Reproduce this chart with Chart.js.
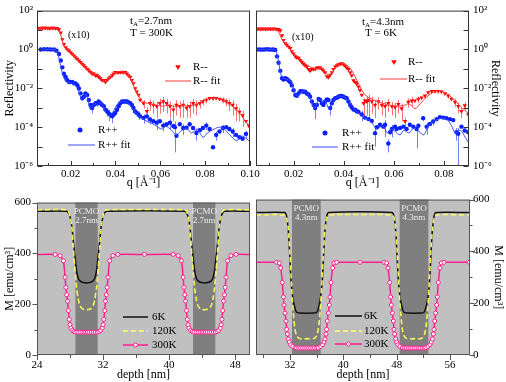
<!DOCTYPE html>
<html>
<head>
<meta charset="utf-8">
<script src="https://cdn.jsdelivr.net/npm/chart.js@4.4.1/dist/chart.umd.min.js"></script>
<style>
  body { margin: 0; background: #fff; }
  #wrap { position: relative; width: 506px; height: 382px; overflow: hidden; }
  canvas { position: absolute; }
</style>
</head>
<body>
<div id="wrap">
  <canvas id="topLeft" width="262" height="190" style="left:0px;top:0px"></canvas>
  <canvas id="topRight" width="253" height="190" style="left:253px;top:0px"></canvas>
  <canvas id="botLeft" width="253" height="192" style="left:0px;top:190px"></canvas>
  <canvas id="botRight" width="253" height="192" style="left:253px;top:190px"></canvas>
</div>
<script>
// ---- top left: t_A = 2.7nm, T = 300K ----
const qPlusA = [0.0067,0.0082,0.0097,0.0111,0.0126,0.0137,0.0148,0.0156,0.0163,0.0170,
  0.0178,0.0185,0.0193,0.0200,0.0207,0.0215,0.0222,0.0230,0.0237,0.0244,
  0.0252,0.0259,0.0266,0.0274,0.0281,0.0289,0.0296,0.0303,0.0311,0.0318,
  0.0325,0.0333,0.0340,0.0348,0.0355,0.0362,0.0370,0.0377,0.0385,0.0392,
  0.0399,0.0407,0.0414,0.0421,0.0429,0.0436,0.0444,0.0451,0.0458,0.0466,
  0.0473,0.0480,0.0488,0.0495,0.0503,0.0510,0.0525,0.0540,0.0554,0.0569,
  0.0584,0.0598,0.0613,0.0628,0.0643,0.0658,0.0665,0.0672,0.0687,0.0702,
  0.0717,0.0731,0.0746,0.0761,0.0776,0.0790,0.0805,0.0820,0.0835,0.0849,
  0.0864,0.0879,0.0894,0.0908,0.0923,0.0938,0.0953,0.0967,0.0982];
const rPlusA = [1.0,1.03,1.03,1.0,1.0,0.85,0.58,0.27,0.12,0.056,
  0.038,0.026,0.021,0.021,0.021,0.018,0.018,0.0145,0.0098,0.0055,
  0.0031,0.0037,0.0055,0.0045,0.0025,0.0014,0.00096,0.0014,0.0017,0.0017,
  0.0021,0.0017,0.0014,0.0012,0.0008,0.00065,0.0005,0.00044,0.00036,0.00044,
  0.00054,0.00079,0.0012,0.0017,0.0021,0.0021,0.0021,0.0021,0.0019,0.0017,
  0.0014,0.00096,0.00065,0.00054,0.00044,0.00036,0.0003,0.00036,0.00025,0.0002,
  0.00017,0.0002,0.00012,0.00014,0.00017,0.000115,0.0001,0.000036,0.00014,0.00009,
  0.000094,0.00014,0.00009,0.00005,0.00007,0.00009,0.00012,0.00008,0.0000092,0.00004,
  0.00006,0.00009,0.0001,0.00008,0.00006,0.00004,0.00003,0.000025,0.000045];
const barQPlusA = [0.0296,0.0362,0.0370,0.0385,0.0480,0.0503,0.0525,0.0554,0.0584,0.0613,
  0.0643,0.0665,0.0702,0.0761,0.0805,0.0849,0.0879,0.0923,0.0982];
const barLoPlusA = [0.0005,0.00035,0.0002,0.00016,0.0005,0.00024,0.00015,0.00014,0.00007,0.00006,
  0.00007,0.000005,0.00004,0.00002,0.00007,0.00002,0.00005,0.00003,0.000025];
const barHiPlusA = [0.0014,0.00095,0.0008,0.00056,0.0014,0.00064,0.00045,0.00035,0.00027,0.00018,
  0.00027,0.0002,0.00014,0.00008,0.00017,0.00006,0.00013,0.00009,0.000065];

const qMinusA = [0.0059,0.0067,0.0074,0.0082,0.0089,0.0097,0.0104,0.0111,0.0119,0.0126,
  0.0133,0.0141,0.0148,0.0156,0.0163,0.0170,0.0178,0.0185,0.0193,0.0200,
  0.0207,0.0215,0.0222,0.0230,0.0237,0.0244,0.0252,0.0259,0.0266,0.0274,
  0.0281,0.0289,0.0296,0.0303,0.0311,0.0318,0.0325,0.0333,0.0340,0.0348,
  0.0355,0.0362,0.0370,0.0377,0.0385,0.0392,0.0399,0.0407,0.0414,0.0421,
  0.0429,0.0436,0.0444,0.0451,0.0458,0.0466,0.0473,0.0480,0.0488,0.0495,
  0.0503,0.0510,0.0525,0.0540,0.0554,0.0569,0.0584,0.0598,0.0613,0.0628,
  0.0643,0.0658,0.0672,0.0687,0.0702,0.0717,0.0731,0.0746,0.0761,0.0776,
  0.0790,0.0805,0.0820,0.0835,0.0849,0.0864,0.0879,0.0894,0.0908,0.0923,
  0.0938,0.0953,0.0967,0.0982,0.0994];
const rMinusA = [12.5,12.8,12.8,12.6,12.8,12.8,12.5,12.8,12.8,12.6,
  12.5,12,10.6,7.2,3.3,1.85,1.25,1.0,0.85,0.7,
  0.58,0.48,0.39,0.32,0.265,0.22,0.18,0.15,0.122,0.1,
  0.083,0.068,0.056,0.056,0.046,0.046,0.038,0.0315,0.026,0.026,
  0.021,0.026,0.0315,0.038,0.046,0.056,0.068,0.068,0.068,0.068,
  0.07,0.068,0.068,0.056,0.046,0.038,0.026,0.0176,0.0098,0.0067,
  0.0045,0.0025,0.0017,0.00065,0.0017,0.0014,0.0012,0.0017,0.0021,0.0017,
  0.0012,0.00079,0.0014,0.0012,0.0014,0.00096,0.0012,0.0017,0.0014,0.0017,
  0.0021,0.0025,0.0031,0.0031,0.0031,0.0028,0.0025,0.0021,0.0017,0.0014,
  0.0009,0.0006,0.0004,0.0002,0.00012];
const barQMinusA = [0.0525,0.0540,0.0554,0.0569,0.0584,0.0598,0.0613,0.0628,0.0643,0.0658,
  0.0672,0.0687,0.0702,0.0717,0.0731,0.0746,0.0761,0.0776,0.0790,0.0805,
  0.0835,0.0879,0.0894,0.0908,0.0923,0.0938,0.0953,0.0967];
const barLoMinusA = [0.0009,0.00025,0.0007,0.0005,0.0003,0.0005,0.0006,0.0005,0.0003,0.0002,
  0.0004,0.0003,0.0003,0.0003,0.0003,0.0005,0.0004,0.0009,0.0013,0.0017,
  0.0023,0.0017,0.0012,0.0007,0.0004,0.0002,0.0002,0.0001];
const barHiMinusA = [0.0025,0.0011,0.0027,0.0023,0.0021,0.0029,0.0036,0.0029,0.0021,0.0014,
  0.0024,0.0021,0.0025,0.0016,0.0021,0.0029,0.0024,0.0025,0.0029,0.0033,
  0.0039,0.0033,0.003,0.0027,0.0024,0.0016,0.001,0.0007];

const qFitPlusA = [0.0052,0.0125,0.0135,0.0145,0.0155,0.0163,0.0172,0.018,0.0195,0.021,
  0.022,0.023,0.024,0.025,0.026,0.0268,0.0276,0.0285,0.029,0.0298,
  0.0308,0.032,0.0333,0.0345,0.036,0.0372,0.0385,0.04,0.0415,0.043,
  0.0445,0.046,0.048,0.05,0.052,0.054,0.056,0.058,0.0605,0.0625,
  0.065,0.067,0.069,0.0715,0.074,0.0765,0.079,0.081,0.084,0.0865,
  0.0885,0.091,0.094,0.0965,0.1];
const rFitPlusA = [1.0,1.0,0.9,0.5,0.15,0.06,0.03,0.022,0.02,0.018,
  0.015,0.01,0.005,0.0027,0.0038,0.005,0.003,0.0009,0.0008,0.0013,
  0.0018,0.0012,0.0018,0.0012,0.0005,0.0004,0.0005,0.0011,0.0018,0.0021,
  0.0021,0.0016,0.0008,0.0004,0.00028,0.0002,0.00016,0.00012,0.00008,0.00011,
  0.00007,0.00004,0.00006,0.00009,0.00005,0.00008,0.00003,0.00005,0.00008,0.0001,
  0.00008,0.00004,0.00002,0.000035,0.000018];
const qFitMinusA = [0.0052,0.0135,0.0145,0.0155,0.0165,0.0175,0.019,0.021,0.023,0.025,
  0.027,0.029,0.0305,0.032,0.0335,0.035,0.0365,0.038,0.0405,0.043,
  0.0455,0.048,0.05,0.052,0.055,0.058,0.061,0.064,0.067,0.07,
  0.073,0.076,0.079,0.0825,0.0855,0.089,0.092,0.095,0.098,0.1];
const rFitMinusA = [12.8,12.5,10,6,2.5,1.2,0.8,0.5,0.3,0.18,
  0.1,0.06,0.05,0.055,0.035,0.022,0.025,0.045,0.068,0.072,
  0.05,0.015,0.005,0.0022,0.0016,0.0014,0.0012,0.0014,0.0011,0.0013,
  0.0012,0.0015,0.0022,0.003,0.003,0.002,0.0012,0.0006,0.0002,0.00011];

// ---- top right: t_A = 4.3nm, T = 6K ----
const qPlusB = [0.0054,0.0065,0.0074,0.0083,0.0094,0.0103,0.0113,0.0120,0.0127,0.0134,
  0.0140,0.0147,0.0154,0.0160,0.0167,0.0173,0.0180,0.0187,0.0193,0.0200,
  0.0207,0.0213,0.0220,0.0227,0.0233,0.0240,0.0246,0.0253,0.0260,0.0266,
  0.0273,0.0280,0.0286,0.0293,0.0300,0.0306,0.0313,0.0319,0.0326,0.0333,
  0.0339,0.0346,0.0353,0.0359,0.0366,0.0373,0.0379,0.0386,0.0392,0.0399,
  0.0406,0.0412,0.0419,0.0426,0.0432,0.0439,0.0446,0.0452,0.0459,0.0472,
  0.0485,0.0499,0.0512,0.0525,0.0532,0.0545,0.0558,0.0565,0.0578,0.0585,
  0.0592,0.0605,0.0611,0.0625,0.0638,0.0651,0.0664,0.0678,0.0691,0.0698,
  0.0717,0.0731,0.0744,0.0757,0.0771,0.0784,0.0797,0.0810,0.0824,0.0837,
  0.0850,0.0857,0.0870,0.0883,0.0897];
const rPlusB = [1.0,1.0,0.98,1.0,1.02,1.0,0.98,1.0,0.95,0.44,
  0.205,0.079,0.033,0.028,0.033,0.03,0.025,0.0207,0.0141,0.0079,
  0.0045,0.0041,0.0054,0.0071,0.0071,0.0066,0.0066,0.0054,0.0048,0.0037,
  0.0021,0.0014,0.00097,0.0014,0.0028,0.0025,0.0017,0.0014,0.0021,0.0027,
  0.0025,0.00097,0.0017,0.0025,0.0031,0.0033,0.0037,0.004,0.004,0.0037,
  0.0033,0.0031,0.0021,0.0014,0.00105,0.0008,0.0008,0.00066,0.00061,0.00045,
  0.00031,0.00026,0.00021,0.000049,0.000098,0.000133,0.000106,0.000133,0.0000145,0.000055,
  0.000081,0.000106,0.000081,0.000091,0.000106,0.000081,0.000133,0.000106,0.000081,0.000119,
  0.00029,0.000106,0.000144,0.000195,0.00026,0.00033,0.00031,0.00029,0.00026,0.00023,
  0.000055,0.000046,0.000106,0.000067,0.000055];
const barQPlusB = [0.0286,0.0346,0.0472,0.0525,0.0565,0.0578,0.0592,0.0691,0.0717,0.0731,
  0.0757,0.0850,0.0857,0.0897];
const barLoPlusB = [0.00026,0.0004,0.0002,0.00001,0.00003,0.000005,0.00003,0.000008,0.0002,0.00004,
  0.00012,0.00002,0.0000005,0.00002];
const barHiPlusB = [0.0017,0.0016,0.0007,0.00009,0.00024,0.000024,0.00013,0.00015,0.00038,0.00017,
  0.00027,0.00009,0.00009,0.00009];

const qMinusB = [0.0054,0.0061,0.0067,0.0074,0.0081,0.0087,0.0094,0.0101,0.0107,0.0114,
  0.0120,0.0127,0.0134,0.0140,0.0147,0.0154,0.0160,0.0167,0.0173,0.0180,
  0.0187,0.0193,0.0200,0.0207,0.0213,0.0220,0.0227,0.0233,0.0240,0.0246,
  0.0253,0.0260,0.0266,0.0273,0.0280,0.0286,0.0293,0.0300,0.0306,0.0313,
  0.0319,0.0326,0.0333,0.0339,0.0346,0.0353,0.0359,0.0366,0.0373,0.0379,
  0.0386,0.0392,0.0399,0.0406,0.0412,0.0419,0.0426,0.0432,0.0439,0.0446,
  0.0452,0.0459,0.0465,0.0472,0.0479,0.0485,0.0492,0.0499,0.0512,0.0525,
  0.0538,0.0552,0.0565,0.0578,0.0592,0.0605,0.0618,0.0631,0.0645,0.0658,
  0.0671,0.0684,0.0698,0.0711,0.0724,0.0737,0.0751,0.0764,0.0777,0.0790,
  0.0804,0.0817,0.0830,0.0844,0.0857,0.0870,0.0883,0.0897];
const rMinusB = [11.3,11.5,11.3,11.3,11.5,11.3,11.3,11.5,11.3,11.3,
  11.5,11.3,11.0,10.5,9.4,5.3,3.0,2.0,1.67,1.38,
  1.14,0.78,0.6,0.44,0.39,0.36,0.28,0.22,0.18,0.15,
  0.13,0.095,0.079,0.095,0.1,0.1,0.115,0.115,0.115,0.1,
  0.079,0.065,0.041,0.037,0.048,0.065,0.095,0.13,0.15,0.17,
  0.18,0.19,0.17,0.14,0.115,0.095,0.065,0.045,0.025,0.0207,
  0.017,0.012,0.0079,0.0045,0.0017,0.0023,0.0021,0.0025,0.0021,0.0014,
  0.0021,0.0014,0.00118,0.0017,0.0012,0.00105,0.0015,0.0009,0.0002,0.002,
  0.0023,0.0023,0.0028,0.0033,0.0041,0.006,0.0071,0.0071,0.0071,0.0066,
  0.0054,0.0041,0.0028,0.002,0.0012,0.00066,0.0013,0.00045];
const barQMinusB = [0.0479,0.0492,0.0499,0.0512,0.0525,0.0538,0.0552,0.0565,0.0578,0.0592,
  0.0605,0.0618,0.0631,0.0645,0.0658,0.0671,0.0698,0.0724,0.0777,0.0817,
  0.0844,0.0857,0.0870,0.0883];
const barLoMinusB = [0.0003,0.0004,0.0003,0.0005,0.0003,0.0008,0.0004,0.0003,0.0006,0.0004,
  0.0003,0.0005,0.0002,0.0001,0.001,0.0011,0.0018,0.003,0.0056,0.003,
  0.0011,0.0005,0.0003,0.0007];
const barHiMinusB = [0.0031,0.0038,0.0047,0.0037,0.0025,0.0034,0.0024,0.002,0.0028,0.002,
  0.0018,0.0025,0.0016,0.0003,0.003,0.0035,0.0038,0.0052,0.0086,0.0052,
  0.0029,0.0019,0.001,0.0019];

const qFitPlusB = [0.0054,0.0122,0.013,0.014,0.0147,0.0155,0.017,0.0185,0.0195,0.0205,
  0.0215,0.023,0.0245,0.026,0.0275,0.0285,0.0295,0.0305,0.0315,0.0325,
  0.034,0.035,0.0365,0.0385,0.04,0.042,0.044,0.046,0.0485,0.0505,
  0.052,0.0535,0.0555,0.0575,0.059,0.0605,0.0625,0.064,0.066,0.068,
  0.07,0.072,0.0735,0.076,0.0785,0.081,0.083,0.0845,0.0865,0.0885,0.09];
const rFitPlusB = [1.0,1.0,0.8,0.25,0.07,0.035,0.03,0.025,0.015,0.006,
  0.004,0.0065,0.007,0.0045,0.0015,0.0009,0.002,0.0028,0.0018,0.0025,
  0.0009,0.0011,0.0028,0.004,0.0037,0.0022,0.001,0.0005,0.0003,0.00022,
  0.00012,0.00008,0.00012,0.00005,0.00008,0.00006,0.00004,0.00007,0.00005,0.00009,
  0.00006,0.00004,0.0001,0.0002,0.00028,0.00026,0.00012,0.00005,0.00007,0.00003,0.000015];
const qFitMinusB = [0.0054,0.0127,0.014,0.015,0.016,0.0175,0.019,0.021,0.023,0.025,
  0.027,0.029,0.031,0.0325,0.034,0.0355,0.037,0.039,0.041,0.043,
  0.045,0.047,0.049,0.052,0.055,0.058,0.061,0.064,0.066,0.0685,
  0.0705,0.073,0.076,0.0785,0.081,0.0835,0.086,0.088,0.09];
const rFitMinusB = [11.3,11,8,4,2.5,1.5,0.9,0.5,0.3,0.17,
  0.12,0.1,0.11,0.08,0.045,0.07,0.13,0.18,0.16,0.09,
  0.03,0.009,0.004,0.0025,0.0018,0.0014,0.0012,0.0013,0.0016,0.0009,
  0.0016,0.0035,0.0065,0.0075,0.0055,0.003,0.0014,0.0008,0.0005];

// ---- bottom left: magnetization profile, PCMO 2.7nm ----
const depthGridA = [24, 27.6, 27.8, 28.0, 28.2, 28.4, 28.6, 28.8, 29.0, 29.2, 29.6,
  30.4, 30.8, 31.0, 31.2, 31.4, 31.6, 31.8, 32.0, 32.2, 32.4,
  41.9, 42.1, 42.3, 42.5, 42.7, 42.9, 43.1, 43.3, 43.5, 43.9,
  44.7, 45.1, 45.3, 45.5, 45.7, 45.9, 46.1, 46.3, 46.5, 46.7, 49.8];
const m6kA = [566, 566, 560, 545, 510, 450, 388, 330, 302, 292, 285,
  285, 292, 302, 330, 388, 450, 510, 545, 560, 566,
  566, 560, 545, 510, 450, 388, 330, 302, 292, 285,
  285, 292, 302, 330, 388, 450, 510, 545, 560, 566, 566];
const m120kA = [572, 572, 566, 545, 512, 425, 337, 262, 219, 194, 180,
  180, 194, 219, 262, 337, 425, 512, 545, 566, 572,
  572, 566, 545, 512, 425, 337, 262, 219, 194, 180,
  180, 194, 219, 262, 337, 425, 512, 545, 566, 572, 572];
const depth300kA = [24,
  26.2, 26.8, 27.2, 27.4, 27.5, 27.6, 27.7, 27.8, 27.9, 28.0,
  28.1, 28.3, 28.5, 28.7, 28.95, 29.2, 29.45, 29.7, 29.9, 30.1,
  30.3, 30.55, 30.8, 31.05, 31.3, 31.5, 31.7, 31.9, 32.0, 32.1,
  32.2, 32.3, 32.4, 32.5, 32.6, 32.8, 33.2, 33.8,
  37.0,
  40.5, 41.1, 41.5, 41.7, 41.8, 41.9, 42.0, 42.1, 42.2, 42.3,
  42.4, 42.6, 42.8, 43.0, 43.25, 43.5, 43.75, 44.0, 44.2, 44.4,
  44.6, 44.85, 45.1, 45.35, 45.6, 45.8, 46.0, 46.2, 46.3, 46.4,
  46.5, 46.6, 46.7, 46.8, 46.9, 47.1, 47.5, 48.1,
  49.8];
const m300kA = [396,
  396, 391, 371, 306, 266, 237, 212, 175, 140, 119,
  106, 97, 92, 90, 90, 90, 90, 90, 90, 90,
  90, 90, 90, 90, 90, 92, 97, 106, 119, 140,
  175, 212, 237, 266, 306, 371, 391, 396,
  396,
  396, 391, 371, 306, 266, 237, 212, 175, 140, 119,
  106, 97, 92, 90, 90, 90, 90, 90, 90, 90,
  90, 90, 90, 90, 90, 92, 97, 106, 119, 140,
  175, 212, 237, 266, 306, 371, 391, 396,
  396];
const bandStartA = [28.65, 42.9];
const bandEndA = [31.35, 45.6];
const bandTextA = ['PCMO', '2.7nm'];

// ---- bottom right: magnetization profile, PCMO 4.3nm ----
const depth6kB = [26.9, 31.2, 31.5, 31.75, 31.95, 32.15, 32.4, 32.75, 33.0, 33.5,
  35.5, 36.0, 36.25, 36.6, 36.85, 37.05, 37.25, 37.5, 37.8,
  47.3, 47.6, 47.85, 48.05, 48.25, 48.5, 48.85, 49.1, 49.6,
  51.6, 52.1, 52.35, 52.7, 52.95, 53.15, 53.35, 53.6, 53.9, 59];
const m6kB = [550, 550, 535, 480, 390, 290, 224, 180, 165, 162,
  162, 165, 180, 224, 290, 390, 480, 535, 550,
  550, 535, 480, 390, 290, 224, 180, 165, 162,
  162, 165, 180, 224, 290, 390, 480, 535, 550, 550];
const depth120kB = [26.9, 31.2, 31.5, 31.75, 32.0, 32.25, 32.5, 32.75, 33.0, 33.4,
  35.6, 36.0, 36.25, 36.5, 36.75, 37.0, 37.25, 37.5, 37.8,
  47.3, 47.6, 47.85, 48.1, 48.35, 48.6, 48.85, 49.1, 49.5,
  51.7, 52.1, 52.35, 52.6, 52.85, 53.1, 53.35, 53.6, 53.9, 59];
const m120kB = [541, 541, 530, 485, 386, 261, 162, 100, 75, 64,
  64, 75, 100, 162, 261, 386, 485, 530, 541,
  541, 530, 485, 386, 261, 162, 100, 75, 64,
  64, 75, 100, 162, 261, 386, 485, 530, 541, 541];
const depth300kB = [26.9,
  30.0, 30.4, 30.6, 30.85, 31.0, 31.1, 31.25, 31.4, 31.5, 31.6, 31.75, 31.9, 32.1, 32.4, 32.75,
  33.0, 33.3, 33.6, 33.9, 34.2, 34.5, 34.8, 35.1, 35.4, 35.7, 36.0,
  36.25, 36.6, 36.9, 37.1, 37.25, 37.4, 37.5, 37.6, 37.75, 37.9, 38.0, 38.15, 38.4, 38.6, 39.0,
  42.5,
  46.1, 46.5, 46.7, 46.95, 47.1, 47.2, 47.35, 47.5, 47.6, 47.7, 47.85, 48.0, 48.2, 48.5, 48.85,
  49.1, 49.4, 49.7, 50.0, 50.3, 50.6, 50.9, 51.2, 51.5, 51.8, 52.1,
  52.35, 52.7, 53.0, 53.2, 53.35, 53.5, 53.6, 53.7, 53.85, 54.0, 54.1, 54.25, 54.5, 54.7, 55.1,
  58.9];
const m300kB = [358,
  358, 355, 336, 280, 224, 193, 162, 131, 99, 81, 62, 50, 40, 33, 28,
  27, 27, 27, 27, 27, 27, 27, 27, 27, 27, 27,
  28, 33, 40, 50, 62, 81, 99, 131, 162, 193, 224, 280, 336, 355, 358,
  358,
  358, 355, 336, 280, 224, 193, 162, 131, 99, 81, 62, 50, 40, 33, 28,
  27, 27, 27, 27, 27, 27, 27, 27, 27, 27, 27,
  28, 33, 40, 50, 62, 81, 99, 131, 162, 193, 224, 280, 336, 355, 358,
  358];
const bandStartB = [32.3, 48.45];
const bandEndB = [36.6, 52.75];
const bandTextB = ['PCMO', '4.3nm'];

// ---- ticks ----
const qTicksA = [0.02, 0.04, 0.06, 0.08, 0.10];
const qTicksB = [0.02, 0.04, 0.06, 0.08];
const qMinor = [0.01, 0.03, 0.05, 0.07];
const rTicks = [1e-6, 1e-5, 1e-4, 1e-3, 1e-2, 1e-1, 1, 10, 100];
const depthTicksA = [24, 32, 40, 48];
const depthMinorA = [28, 36, 44];
const depthTicksB = [32, 40, 48, 56];
const depthMinorB = [28, 36, 44, 52];
const mTicks = [0, 200, 400, 600];
const mMinor = [100, 300, 500];

const RED = '#ff0000', RED_FIT = '#ff3b3b', RED_BAR = '#ff7070';
const BLUE = '#0a20ff', BLUE_FIT = '#3b4cff', BLUE_BAR = '#7080ff';
const C6K = '#111111', C120K = '#ffff5a', C300K = '#ff1f8f';
const SERIF = "'Liberation Serif', 'Times New Roman', serif";

Chart.defaults.font.family = SERIF;
Chart.defaults.color = '#000';

const pts = (xs, ys) => xs.map((x, i) => ({ x, y: ys[i] }));

const SUP = { '-': '\u207B', '0': '\u2070', '1': '\u00B9', '2': '\u00B2', '3': '\u00B3', '4': '\u2074', '5': '\u2075', '6': '\u2076' };
function powLabel(v) {
  const e = Math.round(Math.log10(v));
  if (e % 2 !== 0) return '';
  return '10' + String(e).split('').map(c => SUP[c]).join('');
}

// gray plot background with darker PCMO bands
const bandsPlugin = {
  id: 'bands',
  beforeDatasetsDraw(chart, args, o) {
    if (!o.start) return;
    const { ctx, chartArea: a, scales: { x } } = chart;
    ctx.save();
    ctx.fillStyle = '#c0c0c0';
    ctx.fillRect(a.left, a.top, a.right - a.left, a.bottom - a.top);
    o.start.forEach((s, i) => {
      const x1 = x.getPixelForValue(s), x2 = x.getPixelForValue(o.end[i]);
      ctx.fillStyle = '#7f7f7f';
      ctx.fillRect(x1, a.top, x2 - x1, a.bottom - a.top);
      ctx.fillStyle = '#ececec';
      ctx.font = '9px ' + SERIF;
      ctx.textAlign = 'center';
      ctx.textBaseline = 'middle';
      ctx.fillText(o.text[0], (x1 + x2) / 2, a.top + 9);
      ctx.fillText(o.text[1], (x1 + x2) / 2, a.top + 18);
    });
    ctx.restore();
  }
};

// vertical error bars
const errorBarPlugin = {
  id: 'errorBars',
  beforeDatasetsDraw(chart, args, o) {
    if (!o.sets) return;
    const { ctx, chartArea: a, scales: { x, y } } = chart;
    ctx.save();
    ctx.beginPath();
    ctx.rect(a.left, a.top, a.right - a.left, a.bottom - a.top);
    ctx.clip();
    ctx.lineWidth = 1;
    o.sets.forEach(s => {
      ctx.strokeStyle = s.color;
      ctx.beginPath();
      s.q.forEach((q, i) => {
        const px = Math.round(x.getPixelForValue(q)) + 0.5;
        ctx.moveTo(px, y.getPixelForValue(s.lo[i]));
        ctx.lineTo(px, y.getPixelForValue(s.hi[i]));
      });
      ctx.stroke();
    });
    ctx.restore();
  }
};

// box round the plot and tick marks
const framePlugin = {
  id: 'frame',
  afterDatasetsDraw(chart, args, o) {
    const { ctx, chartArea: a, scales: { x, y } } = chart;
    ctx.save();
    ctx.strokeStyle = o.color || '#333';
    ctx.lineWidth = 1;
    ctx.strokeRect(a.left + 0.5, a.top + 0.5, a.right - a.left - 1, a.bottom - a.top - 1);
    const d = o.inward ? -1 : 1;
    const yEdge = y.position === 'right' ? a.right - 0.5 : a.left + 0.5;
    const yDir = (y.position === 'right' ? 1 : -1) * d;
    ctx.beginPath();
    const xTick = (v, len) => {
      const p = Math.round(x.getPixelForValue(v)) + 0.5;
      ctx.moveTo(p, a.bottom); ctx.lineTo(p, a.bottom + d * len);
    };
    const yTick = (v, len) => {
      const p = Math.round(y.getPixelForValue(v)) + 0.5;
      ctx.moveTo(yEdge, p); ctx.lineTo(yEdge + yDir * len, p);
    };
    x.ticks.forEach(t => xTick(t.value, 5));
    (o.minorX || []).forEach(v => xTick(v, 3));
    y.ticks.forEach(t => yTick(t.value, 5));
    (o.minorY || []).forEach(v => yTick(v, 3));
    ctx.stroke();
    ctx.restore();
  }
};

// free text inside the plots (t_A, T, x10)
const notesPlugin = {
  id: 'notes',
  afterDatasetsDraw(chart, args, o) {
    if (!o.items) return;
    const ctx = chart.ctx;
    ctx.save();
    ctx.fillStyle = '#000';
    ctx.textBaseline = 'middle';
    ctx.textAlign = 'left';
    o.items.forEach(n => {
      let x = n.x;
      n.parts.forEach(p => {
        ctx.font = p[1] + 'px ' + SERIF;
        ctx.fillText(p[0], x, n.y + (p[2] || 0));
        x += ctx.measureText(p[0]).width;
      });
    });
    ctx.restore();
  }
};

// hand placed legends
const keysPlugin = {
  id: 'keys',
  afterDatasetsDraw(chart, args, o) {
    if (!o.items) return;
    const ctx = chart.ctx;
    ctx.save();
    o.items.forEach(k => {
      if (k.line) {
        ctx.strokeStyle = k.color;
        ctx.lineWidth = k.width || 1;
        ctx.setLineDash(k.dash || []);
        ctx.beginPath();
        ctx.moveTo(k.line[0], k.y); ctx.lineTo(k.line[1], k.y);
        ctx.stroke();
        ctx.setLineDash([]);
      }
      if (k.marker === 'triangle') {
        ctx.fillStyle = k.color;
        ctx.beginPath();
        ctx.moveTo(k.mx - 2.8, k.y - 1.8); ctx.lineTo(k.mx + 2.8, k.y - 1.8); ctx.lineTo(k.mx, k.y + 3);
        ctx.closePath(); ctx.fill();
      } else if (k.marker === 'circle') {
        ctx.fillStyle = k.color;
        ctx.beginPath(); ctx.arc(k.mx, k.y, 2.5, 0, Math.PI * 2); ctx.fill();
      } else if (k.marker === 'ring') {
        ctx.fillStyle = '#fff'; ctx.strokeStyle = k.color; ctx.lineWidth = 1;
        ctx.beginPath(); ctx.arc(k.mx, k.y, 2, 0, Math.PI * 2); ctx.fill(); ctx.stroke();
      }
      ctx.fillStyle = '#000';
      ctx.font = '11px ' + SERIF;
      ctx.textBaseline = 'middle';
      ctx.textAlign = 'left';
      ctx.fillText(k.text, k.tx, k.y);
    });
    ctx.restore();
  }
};

Chart.register(bandsPlugin, errorBarPlugin, framePlugin, notesPlugin, keysPlugin);

const noGrid = { display: false, drawTicks: false };
const tickFont = { size: 11 };

function reflAxes(qTicks, qMax, yPos, yTitlePad) {
  return {
    x: {
      type: 'linear', min: 0.005, max: qMax,
      afterBuildTicks: s => { s.ticks = qTicks.map(v => ({ value: v })); },
      afterFit: s => { s.height = 24; },
      grid: noGrid, border: { display: false },
      ticks: { font: tickFont, padding: 2, maxRotation: 0, autoSkip: false, callback: v => v.toFixed(2) },
      title: { display: true, text: 'q [\u00C5\u207B\u00B9]', font: { size: 12 }, padding: 0 }
    },
    y: {
      type: 'logarithmic', position: yPos, min: 1e-6, max: 1e2,
      afterBuildTicks: s => { s.ticks = rTicks.map(v => ({ value: v })); },
      afterFit: s => { s.width = 37; },
      grid: noGrid, border: { display: false },
      ticks: { font: tickFont, padding: 4, autoSkip: false, callback: v => powLabel(v) },
      title: { display: true, text: 'Reflectivity', font: { size: 12 }, padding: { top: yTitlePad, bottom: 0 } }
    }
  };
}

function reflSets(qm, rm, qp, rp, qfm, rfm, qfp, rfp) {
  return [
    { label: 'R-- fit', data: pts(qfm, rfm), showLine: true, borderColor: RED_FIT, borderWidth: 1, pointRadius: 0, tension: 0.3 },
    { label: 'R++ fit', data: pts(qfp, rfp), showLine: true, borderColor: BLUE_FIT, borderWidth: 1, pointRadius: 0, tension: 0.3 },
    { label: 'R--', data: pts(qm, rm), pointStyle: 'triangle', rotation: 180, pointRadius: 2.5, backgroundColor: RED, borderWidth: 0 },
    { label: 'R++', data: pts(qp, rp), pointStyle: 'circle', pointRadius: 2.2, backgroundColor: BLUE, borderWidth: 0 }
  ];
}

const basePlugins = { legend: { display: false }, tooltip: { enabled: false } };

// top left
new Chart(document.getElementById('topLeft'), {
  type: 'scatter',
  data: { datasets: reflSets(qMinusA, rMinusA, qPlusA, rPlusA, qFitMinusA, rFitMinusA, qFitPlusA, rFitPlusA) },
  options: {
    responsive: false, animation: false,
    layout: { padding: { left: 0, right: 12, top: 7, bottom: 0 }, autoPadding: false },
    scales: reflAxes(qTicksA, 0.1, 'left', 3),
    plugins: Object.assign({}, basePlugins, {
      errorBars: { sets: [
        { q: barQMinusA, lo: barLoMinusA, hi: barHiMinusA, color: RED_BAR },
        { q: barQPlusA, lo: barLoPlusA, hi: barHiPlusA, color: BLUE_BAR }
      ] },
      frame: { color: '#333', inward: true, minorX: qMinor.concat([0.09]) },
      notes: { items: [
        { x: 68, y: 35, parts: [['(x10)', 10]] },
        { x: 130, y: 21, parts: [['t', 11], ['A', 7, 3], ['=2.7nm', 11]] },
        { x: 130, y: 33, parts: [['T = 300K', 11]] }
      ] },
      keys: { items: [
        { marker: 'triangle', mx: 178, y: 67, color: RED, text: 'R--', tx: 193 },
        { line: [165, 191], y: 81, color: RED_FIT, text: 'R-- fit', tx: 193 },
        { marker: 'circle', mx: 80, y: 130, color: BLUE, text: 'R++', tx: 98 },
        { line: [68, 95], y: 145, color: BLUE_FIT, text: 'R++ fit', tx: 98 }
      ] }
    })
  }
});

// top right
new Chart(document.getElementById('topRight'), {
  type: 'scatter',
  data: { datasets: reflSets(qMinusB, rMinusB, qPlusB, rPlusB, qFitMinusB, rFitMinusB, qFitPlusB, rFitPlusB) },
  options: {
    responsive: false, animation: false,
    layout: { padding: { left: 3, right: 0, top: 7, bottom: 0 }, autoPadding: false },
    scales: reflAxes(qTicksB, 0.09, 'right', 4),
    plugins: Object.assign({}, basePlugins, {
      errorBars: { sets: [
        { q: barQMinusB, lo: barLoMinusB, hi: barHiMinusB, color: RED_BAR },
        { q: barQPlusB, lo: barLoPlusB, hi: barHiPlusB, color: BLUE_BAR }
      ] },
      frame: { color: '#333', inward: true, minorX: qMinor },
      notes: { items: [
        { x: 39, y: 37, parts: [['(x10)', 10]] },
        { x: 109, y: 22, parts: [['t', 11], ['A', 7, 3], ['=4.3nm', 11]] },
        { x: 112, y: 33, parts: [['T = 6K', 11]] }
      ] },
      keys: { items: [
        { marker: 'triangle', mx: 141, y: 62, color: RED, text: 'R--', tx: 155 },
        { line: [127, 154], y: 79, color: RED_FIT, text: 'R-- fit', tx: 155 },
        { marker: 'circle', mx: 72, y: 133, color: BLUE, text: 'R++', tx: 89 },
        { line: [59, 85], y: 147, color: BLUE_FIT, text: 'R++ fit', tx: 89 }
      ] }
    })
  }
});

function magAxes(dMin, dMax, dTicks, yPos, yPad, yTitlePad) {
  return {
    x: {
      type: 'linear', min: dMin, max: dMax,
      afterBuildTicks: s => { s.ticks = dTicks.map(v => ({ value: v })); },
      afterFit: s => { s.height = 27; },
      grid: noGrid, border: { display: false },
      ticks: { font: tickFont, padding: 4, maxRotation: 0, autoSkip: false },
      title: { display: true, text: 'depth [nm]', font: { size: 12 }, padding: 0 }
    },
    y: {
      type: 'linear', position: yPos, min: 0, max: 600,
      afterBuildTicks: s => { s.ticks = mTicks.map(v => ({ value: v })); },
      afterFit: s => { s.width = yPos === 'left' ? 37 : 36; },
      grid: noGrid, border: { display: false },
      ticks: { font: tickFont, padding: yPad, autoSkip: false },
      title: { display: true, text: 'M [emu/cm\u00B3]', font: { size: 12 }, padding: { top: yTitlePad, bottom: 0 } }
    }
  };
}

function magSets(d6, m6, d120, m120, d300, m300, hideLast) {
  const n = d300.length;
  return [
    { label: '120K', data: pts(d120, m120), showLine: true, borderColor: C120K, borderWidth: 1.5, borderDash: [5, 3], pointRadius: 0, tension: 0.25 },
    { label: '6K', data: pts(d6, m6), showLine: true, borderColor: C6K, borderWidth: 1.5, pointRadius: 0, tension: 0.25 },
    { label: '300K', data: pts(d300, m300), showLine: true, borderColor: C300K, borderWidth: 1.5, tension: 0.2,
      pointRadius: c => (c.dataIndex === 0 || (hideLast && c.dataIndex === n - 1)) ? 0 : 2,
      pointBackgroundColor: '#ffffff', pointBorderColor: C300K, pointBorderWidth: 1 }
  ];
}

// bottom left
new Chart(document.getElementById('botLeft'), {
  type: 'scatter',
  data: { datasets: magSets(depthGridA, m6kA, depthGridA, m120kA, depth300kA, m300kA, true) },
  options: {
    responsive: false, animation: false,
    layout: { padding: { left: 0, right: 3, top: 5, bottom: 0 }, autoPadding: false },
    scales: magAxes(24, 49.8, depthTicksA, 'left', 6, 3),
    plugins: Object.assign({}, basePlugins, {
      bands: { start: bandStartA, end: bandEndA, text: bandTextA },
      frame: { color: '#555', inward: false, minorX: depthMinorA, minorY: mMinor },
      keys: { items: [
        { line: [123, 148], y: 127, color: C6K, width: 1.5, text: '6K', tx: 152 },
        { line: [123, 148], y: 141, color: C120K, width: 1.5, dash: [5, 3], text: '120K', tx: 152 },
        { line: [123, 148], y: 155, color: C300K, width: 1.5, marker: 'ring', mx: 135.5, text: '300K', tx: 152 }
      ] }
    })
  }
});

// bottom right
new Chart(document.getElementById('botRight'), {
  type: 'scatter',
  data: { datasets: magSets(depth6kB, m6kB, depth120kB, m120kB, depth300kB, m300kB, false) },
  options: {
    responsive: false, animation: false,
    layout: { padding: { left: 3, right: 0, top: 4, bottom: 0 }, autoPadding: false },
    scales: magAxes(26.9, 59, depthTicksB, 'right', 3, 1),
    plugins: Object.assign({}, basePlugins, {
      bands: { start: bandStartB, end: bandEndB, text: bandTextB },
      frame: { color: '#555', inward: false, minorX: depthMinorB, minorY: mMinor },
      keys: { items: [
        { line: [82, 109], y: 126, color: C6K, width: 1.5, text: '6K', tx: 111 },
        { line: [82, 109], y: 141, color: C120K, width: 1.5, dash: [5, 3], text: '120K', tx: 111 },
        { line: [82, 109], y: 154, color: C300K, width: 1.5, marker: 'ring', mx: 95.5, text: '300K', tx: 111 }
      ] }
    })
  }
});
</script>
</body>
</html>
